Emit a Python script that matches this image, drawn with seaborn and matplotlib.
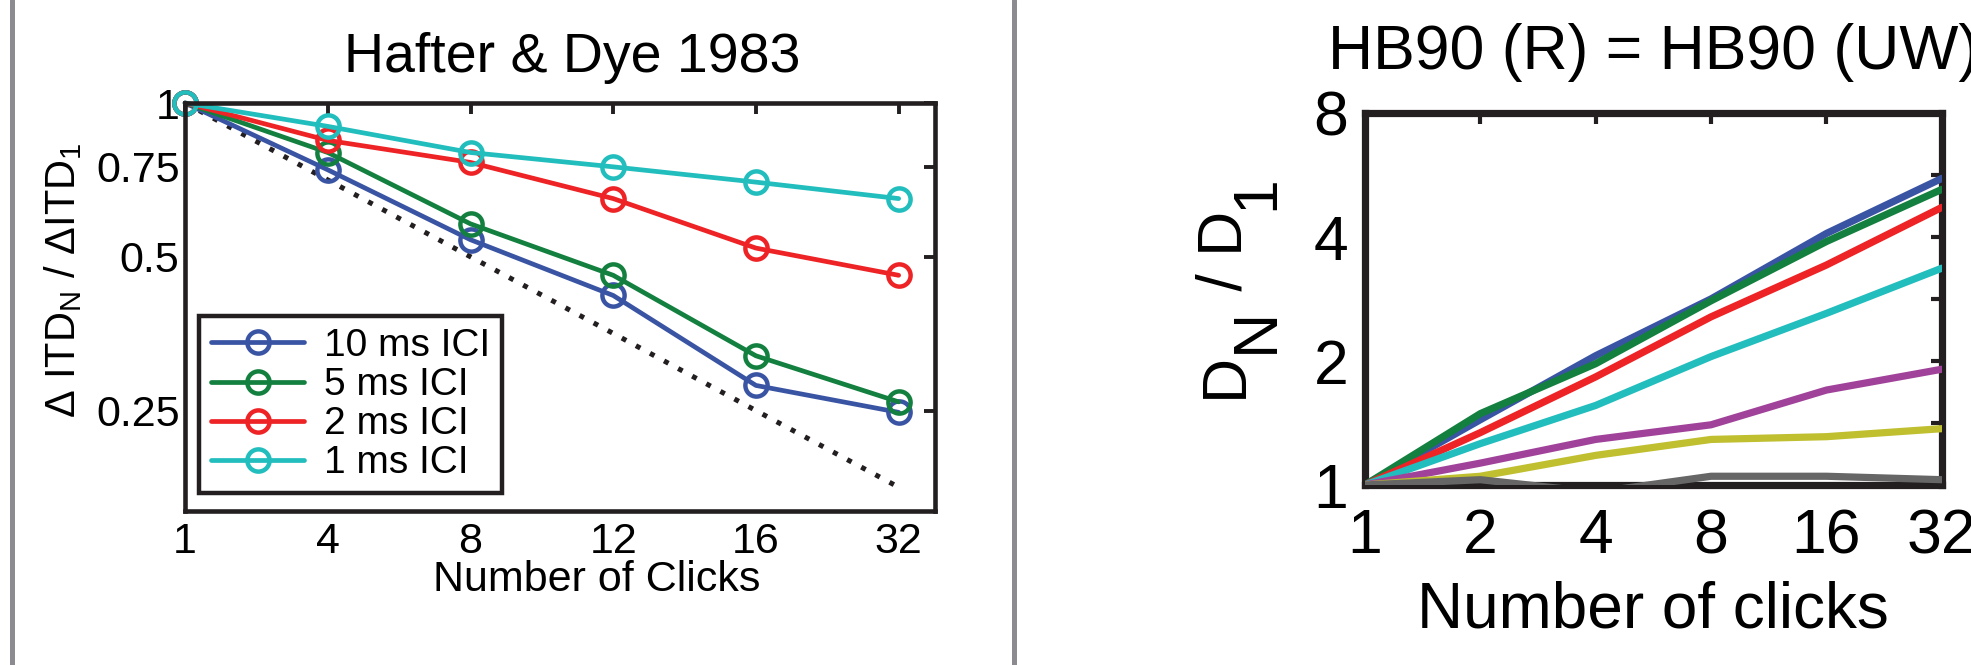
import numpy as np
import pandas as pd
import matplotlib
matplotlib.use('Agg')
import matplotlib.pyplot as plt
from matplotlib.lines import Line2D
from matplotlib.transforms import IdentityTransform
from matplotlib.ticker import FixedLocator, NullLocator, NullFormatter
import seaborn as sns

# ── left panel data: Hafter & Dye 1983 ───────────────────────────────────────
clicks_hd = ['1', '4', '8', '12', '16', '32']
ici_labels = ['10 ms ICI', '5 ms ICI', '2 ms ICI', '1 ms ICI']
ici_10 = [1.0, 0.74, 0.54, 0.42, 0.28, 0.248]
ici_5 = [1.0, 0.80, 0.58, 0.46, 0.32, 0.26]
ici_2 = [1.0, 0.845, 0.765, 0.65, 0.52, 0.46]
ici_1 = [1.0, 0.90, 0.80, 0.75, 0.70, 0.65]
ideal = [1.0, 0.707, 0.5, 0.354, 0.25, 0.177]

# ── right panel data: HB90 model ─────────────────────────────────────────────
clicks_hb = [1, 2, 4, 8, 16, 32]
hb_blue = [1.0, 1.44, 2.06, 2.83, 4.08, 5.55]
hb_green = [1.0, 1.49, 1.97, 2.80, 3.90, 5.22]
hb_red = [1.0, 1.34, 1.83, 2.56, 3.42, 4.72]
hb_cyan = [1.0, 1.26, 1.56, 2.05, 2.61, 3.36]
hb_purple = [1.0, 1.13, 1.29, 1.40, 1.70, 1.91]
hb_olive = [1.0, 1.05, 1.18, 1.29, 1.31, 1.37]
hb_gray = [1.0, 1.03, 0.96, 1.05, 1.05, 1.03]

COL_L = ['#3a54a4', '#13803f', '#ee2326', '#22bdbd']
COL_R = ['#3a54a4', '#13803f', '#ee2326', '#22bdbd', '#a0429a', '#bfbf30', '#666666']
INK = '#231f20'

sns.set_style('white')
plt.rcParams.update({
    'font.family': ['Liberation Sans', 'DejaVu Sans'],
    'mathtext.fontset': 'custom',
    'mathtext.rm': 'Liberation Sans',
    'mathtext.it': 'Liberation Sans:italic',
    'text.color': 'black', 'axes.labelcolor': 'black',
    'xtick.color': INK, 'ytick.color': INK,
    'xtick.labelcolor': 'black', 'ytick.labelcolor': 'black',
    'axes.edgecolor': INK,
})

fig = plt.figure(figsize=(19.71, 6.65), dpi=100)
ax1 = fig.add_axes([0.0939, 0.2316, 0.3805, 0.6135])
ax2 = fig.add_axes([0.6925, 0.2707, 0.2927, 0.5594])

# ── left panel ───────────────────────────────────────────────────────────────
pos = np.arange(len(clicks_hd))
sns.lineplot(x=pos, y=ideal, color=INK, lw=3.6, ls=(0, (1, 2.2)), ax=ax1, zorder=1.5)
for vals, lab, c in zip([ici_10, ici_5, ici_2, ici_1], ici_labels, COL_L):
    sns.lineplot(x=pos, y=vals, color=c, lw=3.4, marker='o', markersize=16,
                 markerfacecolor='none', markeredgecolor=c, markeredgewidth=3.2,
                 label=lab, clip_on=False, ax=ax1)

ax1.set_yscale('log')
ax1.set_ylim(0.159, 1.0)
ax1.set_xlim(0, 5.255)
ax1.yaxis.set_major_locator(FixedLocator([0.25, 0.5, 0.75, 1.0]))
ax1.yaxis.set_minor_locator(NullLocator())
ax1.set_yticklabels(['0.25', '0.5', '0.75', '1'])
ax1.set_xticks(pos)
ax1.set_xticklabels(clicks_hd)
ax1.tick_params(direction='in', length=8, width=2.8, top=True, right=True,
                labelsize=31, pad=4)
ax1.tick_params(axis='x', pad=8)
for s in ax1.spines.values():
    s.set_linewidth(3.3)
ax1.set_title('Hafter & Dye 1983', fontsize=40, pad=22, x=0.516)
ax1.set_xlabel('Number of Clicks', fontsize=31, labelpad=0)
ax1.xaxis.set_label_coords(0.549, -0.12)
ax1.set_ylabel('Δ ITD$_{\\mathrm{N}}$ / ΔITD$_{1}$', fontsize=30)
ax1.yaxis.set_label_coords(-0.134, 0.566)

leg = ax1.legend(loc='lower left', bbox_to_anchor=(0.019, 0.044), borderaxespad=0,
                 fontsize=28, handlelength=2.4, handletextpad=0.5, labelspacing=0.08,
                 borderpad=0.3, fancybox=False, framealpha=1, numpoints=1)
leg.get_frame().set_edgecolor(INK)
leg.get_frame().set_linewidth(3.2)

# ── right panel ──────────────────────────────────────────────────────────────
hb_series = [hb_blue, hb_green, hb_red, hb_cyan, hb_purple, hb_olive, hb_gray]
df_hb = pd.concat([pd.DataFrame({'clicks': clicks_hb, 'ratio': v, 'curve': f'c{i}'})
                   for i, v in enumerate(hb_series)], ignore_index=True)
sns.lineplot(data=df_hb, x='clicks', y='ratio', hue='curve', palette=COL_R,
             lw=5.2, legend=False, ax=ax2, zorder=3)

ax2.set_xscale('log', base=2)
ax2.set_yscale('log', base=2)
ax2.set_xlim(1, 32)
ax2.set_ylim(1, 8)
ax2.xaxis.set_major_locator(FixedLocator(clicks_hb))
ax2.set_xticklabels([str(c) for c in clicks_hb])
ax2.xaxis.set_minor_locator(NullLocator())
ax2.yaxis.set_major_locator(FixedLocator([1, 2, 4, 8]))
ax2.set_yticklabels(['1', '2', '4', '8'])
ax2.yaxis.set_minor_locator(FixedLocator([1.414, 2.828, 5.657]))
ax2.yaxis.set_minor_formatter(NullFormatter())
ax2.tick_params(which='both', direction='in', length=8, width=3, top=True, right=True)
ax2.tick_params(axis='y', labelsize=45, pad=12)
ax2.tick_params(axis='x', labelsize=45, pad=16)
for s in ax2.spines.values():
    s.set_linewidth(5.2)
ax2.set_title('HB90 (R) = HB90 (UW)', fontsize=45, pad=32)
ax2.set_xlabel('Number of clicks', fontsize=46, labelpad=10)
ax2.set_ylabel('')

# y label D_N / D_1 with full-size, lowered subscripts (pieces laid end to end)
renderer = fig.canvas.get_renderer()
y_run = 665 - 398
for piece, base_x in [('D', 1242), ('N', 1273), (' / D', 1242), ('1', 1273)]:
    t = fig.text(base_x, y_run, piece, fontsize=45, rotation=90,
                 rotation_mode='anchor', ha='left', va='baseline',
                 transform=IdentityTransform())
    y_run += t.get_window_extent(renderer=renderer).height

# grey separator bars
for xb in [0.00584, 0.5147]:
    fig.add_artist(Line2D([xb, xb], [0, 1], transform=fig.transFigure,
                          color='#8c8c90', lw=3.6))

fig.savefig('out.png', dpi=100, facecolor='white')
